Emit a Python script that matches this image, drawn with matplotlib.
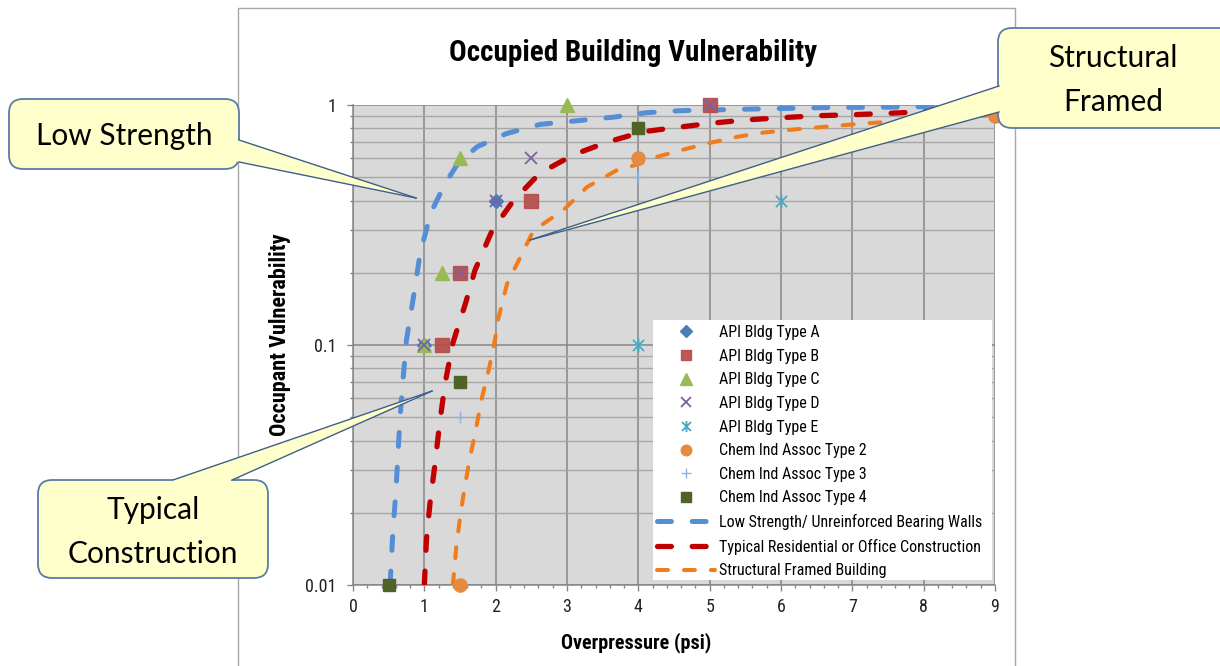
import matplotlib
matplotlib.use("Agg")
import matplotlib.pyplot as plt
from matplotlib.path import Path
from matplotlib.patches import FancyBboxPatch, Polygon, Rectangle
from matplotlib.transforms import IdentityTransform
from matplotlib.ticker import MultipleLocator, FixedLocator, FixedFormatter, NullFormatter

# fonts: narrow sans for the Excel chart, humanist sans for the callouts
narrow = ["Roboto Condensed", "Liberation Sans Narrow", "Liberation Sans", "DejaVu Sans"]
callout_font = ["Lato", "DejaVu Sans"]
plt.rcParams["font.family"] = narrow

# scatter data (psi, vulnerability)
type_a_x = [1, 2]
type_a_y = [0.1, 0.4]
type_b_x = [1.25, 1.5, 2.5, 5]
type_b_y = [0.1, 0.2, 0.4, 1.0]
type_c_x = [1, 1.25, 1.5, 3]
type_c_y = [0.1, 0.2, 0.6, 1.0]
type_d_x = [1, 1.5, 2, 2.5, 5]
type_d_y = [0.1, 0.2, 0.4, 0.6, 1.0]
type_e_x = [4, 6]
type_e_y = [0.1, 0.4]
chem2_x = [1.5, 4, 9]
chem2_y = [0.01, 0.6, 0.9]
chem3_x = [1.5, 4]
chem3_y = [0.05, 0.5]
chem4_x = [0.5, 1.5, 4]
chem4_y = [0.01, 0.07, 0.8]

# curves
low_x = [0.52, 0.56, 0.60, 0.63, 0.66, 0.70, 0.75, 0.87, 0.94, 1.09, 1.29, 1.47, 1.74,
         2.15, 2.62, 3.65, 4.12, 4.6, 5.6, 6.1, 6.6, 7.1, 7.6, 8.0, 9.0]
low_y = [0.01, 0.017, 0.024, 0.035, 0.05, 0.071, 0.105, 0.174, 0.24, 0.355, 0.47, 0.57, 0.67,
         0.76, 0.83, 0.89, 0.929, 0.947, 0.962, 0.968, 0.975, 0.978, 0.98, 0.984, 0.99]
typ_x = [1.0, 1.03, 1.08, 1.15, 1.21, 1.29, 1.40, 1.58, 1.71, 1.95, 2.25, 2.62, 3.09, 3.56,
         4.07, 4.52, 5.01, 5.5, 6.0, 6.5, 7.0, 7.5, 8.0, 9.0]
typ_y = [0.01, 0.0155, 0.022, 0.032, 0.046, 0.069, 0.102, 0.15, 0.205, 0.30, 0.40, 0.52, 0.62, 0.70,
         0.774, 0.805, 0.839, 0.866, 0.885, 0.902, 0.911, 0.923, 0.938, 0.955]
str_x = [1.40, 1.45, 1.51, 1.57, 1.64, 1.72, 1.80, 1.90, 1.99, 2.04, 2.16, 2.37, 2.53, 2.95,
         3.28, 3.70, 4.03, 4.27, 4.65, 5.02, 5.4, 5.75, 6.11, 6.48, 6.85, 7.2, 7.53, 8.2, 9.0]
str_y = [0.01, 0.0146, 0.02, 0.026, 0.034, 0.044, 0.059, 0.078, 0.105, 0.13, 0.18, 0.24, 0.30, 0.365,
         0.455, 0.535, 0.57, 0.609, 0.654, 0.697, 0.738, 0.767, 0.787, 0.805, 0.823, 0.839, 0.852, 0.875, 0.91]

x_ticks = [0, 1, 2, 3, 4, 5, 6, 7, 8, 9]
y_ticks = [0.01, 0.1, 1]
y_tick_labels = ["0.01", "0.1", "1"]

W, H = 1220, 666
fig = plt.figure(figsize=(W / 100, H / 100), dpi=100)
fig.patch.set_facecolor("white")
ax = fig.add_axes([353 / W, 1 - 585 / H, 642 / W, 480 / H])
ax.set_facecolor("#D9D9D9")

# asterisk marker like Excel's
ast = Path([(-1, -1), (1, 1), (-1, 1), (1, -1), (0, -1.25), (0, 1.25)],
           [Path.MOVETO, Path.LINETO] * 3)

plt.rcParams["lines.scale_dashes"] = False
l1, = ax.plot(low_x, low_y, color="#558ED5", lw=3.6, dashes=(10, 15), dash_capstyle="round",
              label="Low Strength/ Unreinforced Bearing Walls", zorder=3)
l2, = ax.plot(typ_x, typ_y, color="#C00000", lw=3.8, dashes=(10, 15), dash_capstyle="round",
              label="Typical Residential or Office Construction", zorder=3)
l3, = ax.plot(str_x, str_y, color="#F07C1B", lw=2.9, dashes=(7.9, 11.5), dash_capstyle="round",
              label="Structural Framed Building", zorder=3)

kw = dict(ls="none", clip_on=False, zorder=4)
m1, = ax.plot(type_a_x, type_a_y, marker="D", ms=7.5, color="#4A7EBB", label="API Bldg Type A", **kw)
m2, = ax.plot(type_b_x, type_b_y, marker="s", ms=9.5, color="#B8504D", alpha=0.95, label="API Bldg Type B", **kw)
m3, = ax.plot(type_c_x, type_c_y, marker="^", ms=10, color="#98B954", label="API Bldg Type C", **kw)
m4, = ax.plot(type_d_x, type_d_y, marker="x", ms=9, mew=1.3, color="#7D60A0", label="API Bldg Type D", **kw)
m5, = ax.plot(type_e_x, type_e_y, marker=ast, ms=10, mew=1.3, color="#46AAC5", label="API Bldg Type E", **kw)
m6, = ax.plot(chem2_x, chem2_y, marker="o", ms=9.5, color="#E58B3F", label="Chem Ind Assoc Type 2", **kw)
m7, = ax.plot(chem3_x, chem3_y, marker="+", ms=9, mew=1.0, color="#8EB4E3", label="Chem Ind Assoc Type 3", **kw)
m8, = ax.plot(chem4_x, chem4_y, marker="s", ms=9, color="#4F6228", label="Chem Ind Assoc Type 4", **kw)

ax.set_xlim(0, 9)
ax.set_yscale("log")
ax.set_ylim(0.01, 1)
ax.xaxis.set_major_locator(FixedLocator(x_ticks))
ax.xaxis.set_minor_locator(MultipleLocator(0.2))
ax.yaxis.set_major_locator(FixedLocator(y_ticks))
ax.yaxis.set_major_formatter(FixedFormatter(y_tick_labels))
ax.yaxis.set_minor_formatter(NullFormatter())
ax.tick_params(which="major", direction="out", length=4, width=1, color="#868686",
               labelsize=13, labelcolor="#222222")
ax.tick_params(which="minor", direction="out", length=2.5, width=1, color="#868686")
ax.tick_params(axis="x", pad=5)
ax.tick_params(axis="y", pad=8)
ax.grid(which="major", color="#868686", lw=1.1, zorder=1)
ax.grid(which="minor", axis="y", color="#A6A6A6", lw=1.0, zorder=1)
ax.set_axisbelow(True)
for s in ["top", "right"]:
    ax.spines[s].set_visible(False)
for s in ["left", "bottom"]:
    ax.spines[s].set_color("#868686")
    ax.spines[s].set_linewidth(1.1)

# axis titles sit where Excel put them, not centred on the plot area
fig.text(636 / W, 1 - 643 / H, "Overpressure (psi)", fontsize=14.5, fontweight="bold",
         ha="center", va="center")
fig.text(280 / W, 1 - 335 / H, "Occupant Vulnerability", fontsize=16, fontweight="bold",
         ha="center", va="center", rotation=90)
fig.text(633 / W, 1 - 53 / H, "Occupied Building Vulnerability", fontsize=21,
         fontweight="bold", ha="center", va="center")

# white legend panel
ax.add_patch(Rectangle((653, H - 580), 339, 260, transform=IdentityTransform(),
                       facecolor="white", edgecolor="none", zorder=4.5, clip_on=False))
handles = [m1, m2, m3, m4, m5, m6, m7, m8, l1, l2, l3]
ax.legend(handles, [h.get_label() for h in handles], loc="upper left",
          bbox_to_anchor=(657 / W, 1 - 325 / H), bbox_transform=fig.transFigure,
          frameon=False, fontsize=11.5, handlelength=3.6, handletextpad=0.3,
          labelspacing=0.54, borderpad=0, borderaxespad=0, numpoints=1, markerscale=0.8)

# chart area border
fig.add_artist(Rectangle((238, H - 700), 777, 692, transform=IdentityTransform(),
                         fill=False, edgecolor="#A6A6A6", lw=1, zorder=0.5))


def callout(x0, y0, x1, y1, base1, base2, tip, text, tx, ty):
    # box given in image pixels (y down)
    box = FancyBboxPatch((x0, H - y1), x1 - x0, y1 - y0,
                         boxstyle="round,pad=0,rounding_size=14",
                         transform=IdentityTransform(), facecolor="#FFFFCC",
                         edgecolor="#5B7CA6", lw=1.3, zorder=2)
    fig.add_artist(box)
    pts = [(base1[0], H - base1[1]), (tip[0], H - tip[1]), (base2[0], H - base2[1])]
    cx, cy = (x0 + x1) / 2, H - (y0 + y1) / 2
    inner = [(p[0] + (cx - p[0]) * 0.05, p[1] + (cy - p[1]) * 0.05) for p in (pts[2], pts[0])]
    fig.add_artist(Polygon(pts + inner, closed=True, transform=IdentityTransform(),
                           facecolor="#FFFFCC", edgecolor="none", zorder=2.1))
    for b in (pts[0], pts[2]):
        fig.add_artist(plt.Line2D([b[0], pts[1][0]], [b[1], pts[1][1]],
                                  transform=IdentityTransform(), color="#3E5F8A",
                                  lw=1.0, zorder=2.2))
    fig.text(tx / W, 1 - ty / H, text, fontsize=21.5, family=callout_font, ha="center",
             va="center", linespacing=1.7, zorder=3)


callout(9, 99, 239, 169, (239, 140), (239, 162), (416, 198), "Low Strength", 124, 136)
callout(998, 28, 1240, 128, (999, 86), (999, 112), (530, 240), "Structural\nFramed", 1113, 80)
callout(38, 480, 268, 578, (173, 480), (232, 480), (432, 391), "Typical\nConstruction", 153, 532)

fig.savefig("out.png", dpi=100)
